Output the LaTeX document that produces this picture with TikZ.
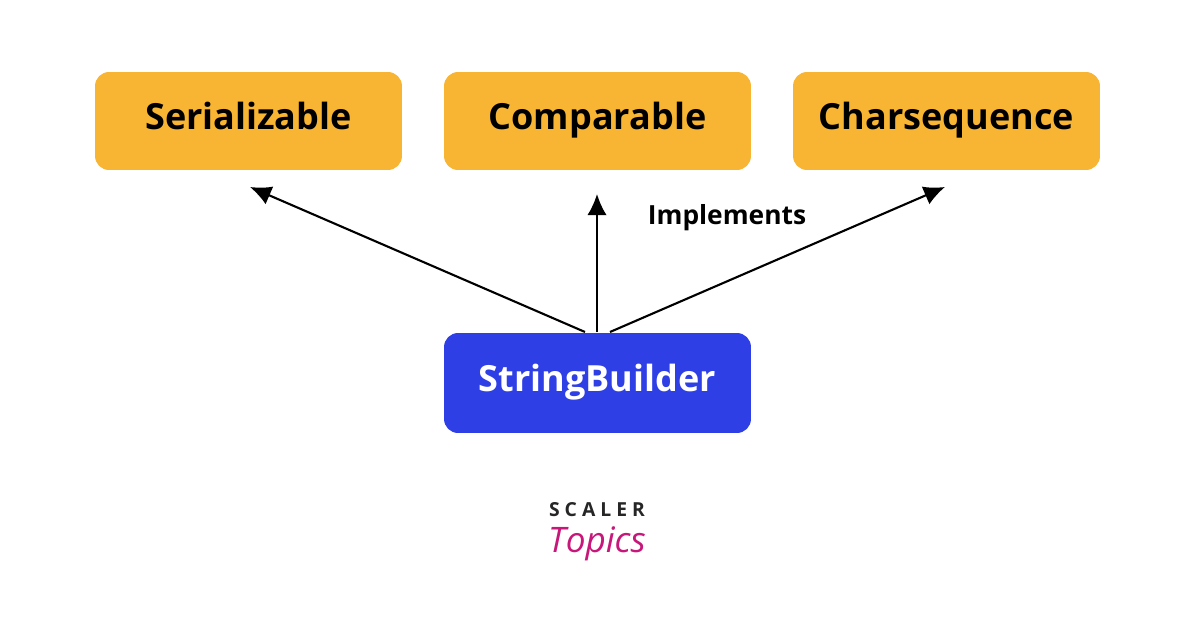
\documentclass[tikz,border=0pt]{standalone}
\usepackage{fontspec}
\setmainfont{Open Sans}
\usetikzlibrary{calc,arrows.meta}
\definecolor{boxorange}{HTML}{F8B433}
\definecolor{boxblue}{HTML}{2E3FE6}
\definecolor{logopink}{HTML}{C8177A}
\tikzset{
  iface/.style={fill=boxorange, rounded corners=8pt, minimum width=6.14cm, minimum height=1.96cm, text height=2.2ex, text depth=0.3ex, font=\fontsize{20.5}{24}\selectfont\bfseries},
  cls/.style={fill=boxblue, text=white, rounded corners=8pt, minimum width=6.14cm, minimum height=2.0cm, text height=2.2ex, text depth=0.3ex, font=\fontsize{20.5}{24}\selectfont\bfseries},
  impl/.style={line width=1.2pt, -{Latex[length=12pt,width=11pt]}}
}
\begin{document}
\begin{tikzpicture}[x=0.02cm, y=-0.02cm]
			%%%%% START %%%%%
			\useasboundingbox (0,0) rectangle (1196,628);
			
			\node[iface] (ser) at (248.5,121) {Serializable};
			\node[iface] (cmp) at (597.5,121) {Comparable};
			\node[iface] (chs) at (946.5,121) {Charsequence};
			
			\node[cls] (sb) at (597.5,383) {StringBuilder};
			
			\coordinate (sbl) at (585,332);
			\coordinate (sbm) at (597,332);
			\coordinate (sbr) at (610,332);
			\coordinate (serend) at (250,187);
			\coordinate (cmpend) at (597,194);
			\coordinate (chsend) at (945,187);
			
			\draw[impl] (sbl) -- (serend);
			\draw[impl] (sbm) -- (cmpend);
			\draw[impl] (sbr) -- (chsend);
			
			\node[font=\fontsize{15}{17}\selectfont\bfseries] (lbl) at (727,218) {Implements};
			
			% logo
			\node[font=\fontsize{11}{12}\selectfont\bfseries, text=black!85] (scl) at (597,510) {S C A L E R};
			\node[font=\fontsize{20}{22}\selectfont\itshape, text=logopink] (tpc) at (597,544) {Topics};
			
			%%%%% END %%%%%
\end{tikzpicture}
\end{document}
